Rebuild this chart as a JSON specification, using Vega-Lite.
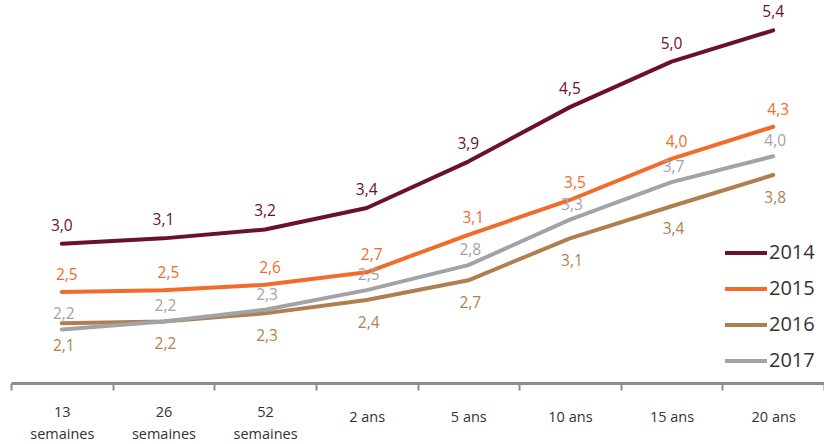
{
  "$schema": "https://vega.github.io/schema/vega-lite/v6.json",
  "width": 813,
  "height": 383,
  "autosize": {"type": "none"},
  "padding": {"left": 11, "top": 0, "right": 0, "bottom": 61},
  "background": "white",
  "config": {
    "view": {"stroke": null},
    "font": "Open Sans"
  },
  "data": {
    "values": [
      {"t": "13 semaines", "year": "2014", "v": 3.00, "label": "3,0"},
      {"t": "26 semaines", "year": "2014", "v": 3.06, "label": "3,1"},
      {"t": "52 semaines", "year": "2014", "v": 3.16, "label": "3,2"},
      {"t": "2 ans", "year": "2014", "v": 3.40, "label": "3,4"},
      {"t": "5 ans", "year": "2014", "v": 3.92, "label": "3,9"},
      {"t": "10 ans", "year": "2014", "v": 4.53, "label": "4,5"},
      {"t": "15 ans", "year": "2014", "v": 5.04, "label": "5,0"},
      {"t": "20 ans", "year": "2014", "v": 5.39, "label": "5,4"},
      {"t": "13 semaines", "year": "2015", "v": 2.46, "label": "2,5"},
      {"t": "26 semaines", "year": "2015", "v": 2.48, "label": "2,5"},
      {"t": "52 semaines", "year": "2015", "v": 2.54, "label": "2,6"},
      {"t": "2 ans", "year": "2015", "v": 2.68, "label": "2,7"},
      {"t": "5 ans", "year": "2015", "v": 3.10, "label": "3,1"},
      {"t": "10 ans", "year": "2015", "v": 3.49, "label": "3,5"},
      {"t": "15 ans", "year": "2015", "v": 3.95, "label": "4,0"},
      {"t": "20 ans", "year": "2015", "v": 4.31, "label": "4,3"},
      {"t": "13 semaines", "year": "2016", "v": 2.11, "label": "2,1"},
      {"t": "26 semaines", "year": "2016", "v": 2.13, "label": "2,2"},
      {"t": "52 semaines", "year": "2016", "v": 2.22, "label": "2,3"},
      {"t": "2 ans", "year": "2016", "v": 2.37, "label": "2,4"},
      {"t": "5 ans", "year": "2016", "v": 2.59, "label": "2,7"},
      {"t": "10 ans", "year": "2016", "v": 3.06, "label": "3,1"},
      {"t": "15 ans", "year": "2016", "v": 3.42, "label": "3,4"},
      {"t": "20 ans", "year": "2016", "v": 3.77, "label": "3,8"},
      {"t": "13 semaines", "year": "2017", "v": 2.04, "label": "2,2"},
      {"t": "26 semaines", "year": "2017", "v": 2.13, "label": "2,2"},
      {"t": "52 semaines", "year": "2017", "v": 2.26, "label": "2,3"},
      {"t": "2 ans", "year": "2017", "v": 2.48, "label": "2,5"},
      {"t": "5 ans", "year": "2017", "v": 2.76, "label": "2,8"},
      {"t": "10 ans", "year": "2017", "v": 3.27, "label": "3,3"},
      {"t": "15 ans", "year": "2017", "v": 3.69, "label": "3,7"},
      {"t": "20 ans", "year": "2017", "v": 3.98, "label": "4,0"}
    ]
  },
  "encoding": {
    "x": {
      "field": "t",
      "type": "nominal",
      "sort": ["13 semaines", "26 semaines", "52 semaines", "2 ans", "5 ans", "10 ans", "15 ans", "20 ans"],
      "scale": {"type": "band", "paddingInner": 0, "paddingOuter": 0},
      "axis": {
        "title": null,
        "labelAngle": 0,
        "labelFontSize": 14.5,
        "labelColor": "#333333",
        "labelBaseline": "middle",
        "labelPadding": {"condition": {"test": "indexof(datum.label, 'semaines') > 0", "value": 22}, "value": 27},
        "labelLineHeight": 22,
        "labelExpr": "indexof(datum.label, 'semaines') > 0 ? split(datum.label, ' ') : datum.label",
        "tickBand": "extent",
        "domainColor": "#8c8c8c",
        "domainWidth": 3,
        "tickColor": "#8c8c8c",
        "tickWidth": 2,
        "tickSize": 7,
        "grid": false
      }
    },
    "y": {
      "field": "v",
      "type": "quantitative",
      "scale": {"domain": [1.44, 5.73], "nice": false, "zero": false},
      "axis": null
    }
  },
  "layer": [
    {
      "mark": {"type": "line", "strokeWidth": 4, "strokeCap": "round", "strokeJoin": "round"},
      "encoding": {
        "color": {
          "field": "year",
          "type": "nominal",
          "scale": {"domain": ["2014", "2015", "2016", "2017"], "range": ["#6b1129", "#f26b2b", "#b07f4f", "#a1a3a6"]},
          "legend": {
            "title": null,
            "orient": "none",
            "legendX": 712,
            "legendY": 230,
            "symbolType": "stroke",
            "symbolSize": 1764,
            "symbolStrokeWidth": 4,
            "labelFontSize": 20,
            "labelColor": "#333333",
            "labelOffset": 0,
            "rowPadding": 3
          }
        }
      }
    },
    {
      "transform": [{"filter": "datum.year == '2014'"}],
      "mark": {"type": "text", "dy": -18, "fontSize": 15.5, "color": "#6b1129"},
      "encoding": {"text": {"field": "label"}}
    },
    {
      "transform": [{"filter": "datum.year == '2015'"}],
      "mark": {"type": "text", "dy": -17, "dx": 5, "fontSize": 15.5, "color": "#f26b2b"},
      "encoding": {"text": {"field": "label"}}
    },
    {
      "transform": [{"filter": "datum.year == '2016'"}],
      "mark": {"type": "text", "dy": 23, "dx": 2, "fontSize": 15.5, "color": "#b07f4f"},
      "encoding": {"text": {"field": "label"}}
    },
    {
      "transform": [{"filter": "datum.year == '2017'"}],
      "mark": {"type": "text", "dy": -15, "dx": 2, "fontSize": 15.5, "color": "#a1a3a6"},
      "encoding": {"text": {"field": "label"}}
    }
  ]
}
